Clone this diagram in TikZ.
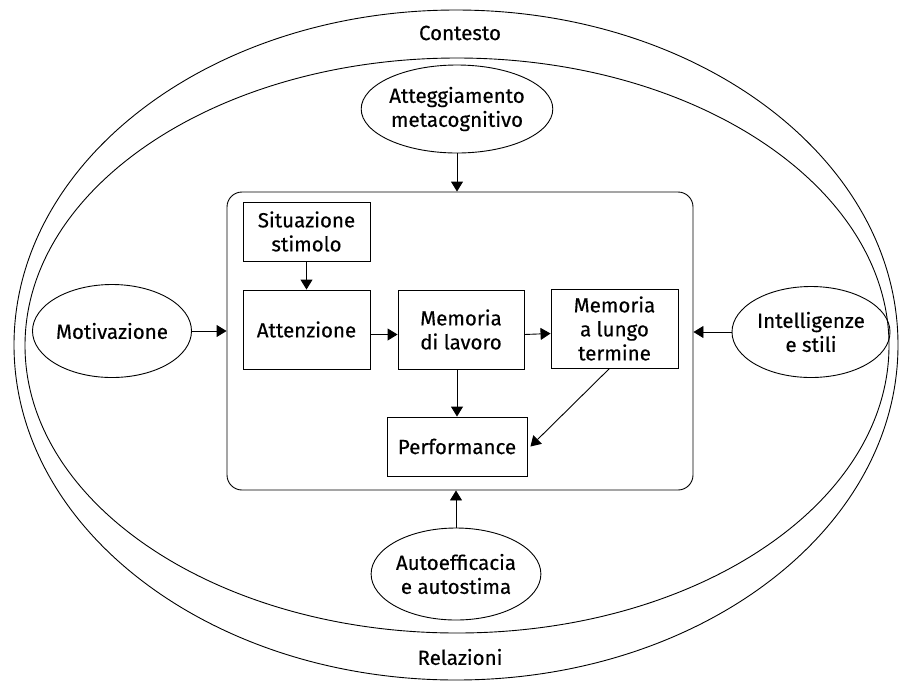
\documentclass[tikz,border=0pt]{standalone}
\usepackage{fontspec}
\setmainfont{Fira Sans}[FakeBold=0.4]
\usetikzlibrary{arrows.meta,shapes.geometric}
\begin{document}
\begin{tikzpicture}[x=1pt,y=-1pt,
  line width=0.9pt,
  every node/.style={font=\fontsize{20.5}{24}\selectfont, align=center, inner sep=0pt},
  blockbox/.style={draw, rectangle, line width=0.9pt},
  oval/.style={draw, ellipse, line width=0.9pt},
  flow/.style={-{Triangle[length=10pt,width=12pt]}, line width=0.9pt}]
\useasboundingbox (0,0) rectangle (899,681);

% nested context ellipses
\node[oval, minimum width=884pt, minimum height=670pt] (contesto) at (456,345) {};
\node[oval, minimum width=864pt, minimum height=575pt] (relaz) at (457,345.5) {};
\node (tcont) at (460,33) {Contesto};
\node (trel) at (460,657) {Relazioni};

% central processing frame
\node[draw, rounded corners=15pt, minimum width=466pt, minimum height=298pt] (main) at (460,341) {};

% inner blocks
\node[blockbox, minimum width=127pt, minimum height=59pt] (sit) at (306.5,231.5) {Situazione\\stimolo};
\node[blockbox, minimum width=127pt, minimum height=79pt] (att) at (306.5,329.5) {Attenzione};
\node[blockbox, minimum width=126pt, minimum height=79pt] (mdl) at (461,329.5) {Memoria\\di lavoro};
\node[blockbox, minimum width=127pt, minimum height=79pt] (mlt) at (614.5,328.5) {Memoria\\a lungo\\termine};
\node[blockbox, minimum width=140pt, minimum height=59pt] (perf) at (457,446.5) {Performance};

% surrounding factors
\node[oval, minimum width=170pt, minimum height=88pt] (atg) at (457,109) {Atteggiamento\\metacognitivo};
\node[oval, minimum width=168pt, minimum height=92pt] (auto) at (456,574) {Autoefficacia\\e autostima};
\node[oval, minimum width=159pt, minimum height=93pt] (mot) at (112,331) {Motivazione};
\node[oval, minimum width=158pt, minimum height=91pt] (intel) at (811,332) {Intelligenze\\e stili};

% connectors
\draw[flow] ([yshift=-5pt]att.east) -- ([yshift=-5pt]mdl.west);
\draw[flow] ([yshift=-5pt]mdl.east) -- ([yshift=-5pt]mlt.west);
\draw[flow] (sit.south) -- (att.north);
\draw[flow] (mdl.south -| perf.north) -- (perf.north);
\draw[flow] ([xshift=-5pt]mlt.south) -- ([xshift=3pt]perf.east);
\draw[flow] (atg.south) -- (atg.south |- main.north);
\draw[flow] (auto.north) -- (auto.north |- main.south);
\draw[flow] (mot.east) -- (mot.east -| main.west);
\draw[flow] (intel.west) -- (intel.west -| main.east);
\end{tikzpicture}
\end{document}
